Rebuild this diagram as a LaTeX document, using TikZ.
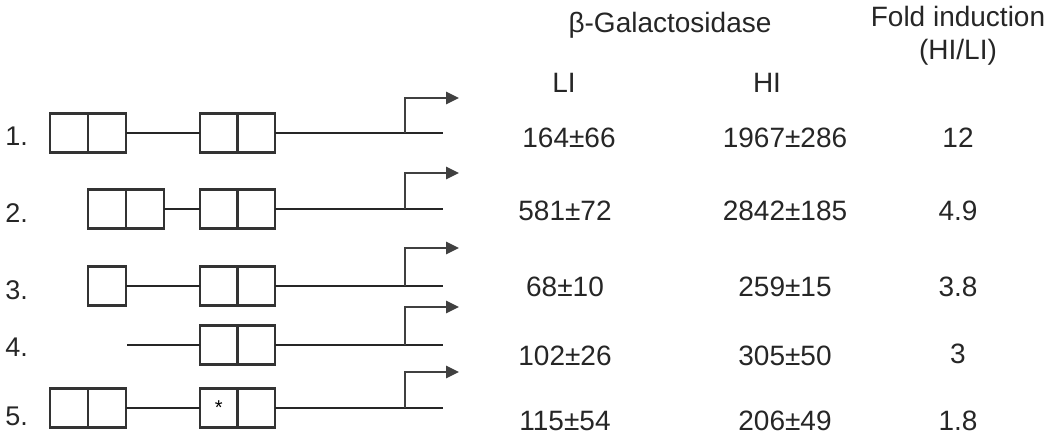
\documentclass[tikz,border=0pt]{standalone}
\usepackage{fontspec}
\setmainfont{Liberation Sans}
\usetikzlibrary{arrows.meta}
\begin{document}
\begin{tikzpicture}[x=0.5pt,y=-0.5pt,
  dom/.style={draw=black!80, line width=1.2pt, minimum width=19pt, minimum height=19.5pt, inner sep=0pt, outer sep=0pt, font=\fontsize{10}{10}\selectfont},
  dna/.style={draw=black!85, line width=0.9pt},
  prom/.style={draw=black!75, line width=1.3pt, -{Triangle[length=6.5pt,width=6pt]}},
  val/.style={font=\fontsize{14}{16}\selectfont, text=black!85, inner sep=0pt},
  lab/.style={font=\fontsize{13.5}{15}\selectfont, text=black!85, inner sep=0pt, anchor=west},
]
\useasboundingbox (0,0) rectangle (1050,439);

% headings
\node[val] (hgal) at (670,25) {β-Galactosidase};
\node[val] (hli) at (564,83) {LI};
\node[val] (hhi) at (767,83) {HI};
\node[val] (hfold) at (958,16) {Fold induction};
\node[val] (hratio) at (958,52) {(HI/LI)};

% row labels
\node[lab] (l1) at (5,136) {1.};
\node[lab] (l2) at (5,213) {2.};
\node[lab] (l3) at (5,290) {3.};
\node[lab] (l4) at (5,347) {4.};
\node[lab] (l5) at (5,416) {5.};

% row 1
\node[dom] (r1a) at (69,133) {};
\node[dom] (r1b) at (107,133) {};
\node[dom] (r1c) at (218.75,133) {};
\node[dom] (r1d) at (256.25,133) {};
\coordinate (r1p) at (405,133);
\coordinate (r1e) at (443,133);
\coordinate (r1t) at (459,98);
\draw[dna] (r1b.east) -- (r1c.west);
\draw[dna] (r1d.east) -- (r1e);
\draw[prom] (r1p) |- (r1t);

% row 2
\node[dom] (r2a) at (107,209) {};
\node[dom] (r2b) at (145,209) {};
\node[dom] (r2c) at (218.75,209) {};
\node[dom] (r2d) at (256.25,209) {};
\coordinate (r2p) at (405,209);
\coordinate (r2e) at (443,209);
\coordinate (r2t) at (459,173);
\draw[dna] (r2b.east) -- (r2c.west);
\draw[dna] (r2d.east) -- (r2e);
\draw[prom] (r2p) |- (r2t);

% row 3
\node[dom] (r3a) at (107,286) {};
\node[dom] (r3c) at (218.75,286) {};
\node[dom] (r3d) at (256.25,286) {};
\coordinate (r3p) at (405,286);
\coordinate (r3e) at (443,286);
\coordinate (r3t) at (459,248);
\draw[dna] (r3a.east) -- (r3c.west);
\draw[dna] (r3d.east) -- (r3e);
\draw[prom] (r3p) |- (r3t);

% row 4
\node[dom] (r4c) at (218.75,345) {};
\node[dom] (r4d) at (256.25,345) {};
\coordinate (r4s) at (127,345);
\coordinate (r4p) at (405,345);
\coordinate (r4e) at (443,345);
\coordinate (r4t) at (459,307);
\draw[dna] (r4s) -- (r4c.west);
\draw[dna] (r4d.east) -- (r4e);
\draw[prom] (r4p) |- (r4t);

% row 5
\node[dom] (r5a) at (69,408) {};
\node[dom] (r5b) at (107,408) {};
\node[dom] (r5c) at (218.75,408) {*};
\node[dom] (r5d) at (256.25,408) {};
\coordinate (r5p) at (405,408);
\coordinate (r5e) at (443,408);
\coordinate (r5t) at (459,372);
\draw[dna] (r5b.east) -- (r5c.west);
\draw[dna] (r5d.east) -- (r5e);
\draw[prom] (r5p) |- (r5t);

% values
\node[val] (v1a) at (569,138) {164±66};
\node[val] (v1b) at (785,138) {1967±286};
\node[val] (v1c) at (958,138) {12};
\node[val] (v2a) at (565,211) {581±72};
\node[val] (v2b) at (785,211) {2842±185};
\node[val] (v2c) at (958,211) {4.9};
\node[val] (v3a) at (565,287) {68±10};
\node[val] (v3b) at (785,287) {259±15};
\node[val] (v3c) at (958,287) {3.8};
\node[val] (v4a) at (565,356) {102±26};
\node[val] (v4b) at (785,356) {305±50};
\node[val] (v4c) at (958,354) {3};
\node[val] (v5a) at (565,421) {115±54};
\node[val] (v5b) at (785,421) {206±49};
\node[val] (v5c) at (958,421) {1.8};
\end{tikzpicture}
\end{document}
